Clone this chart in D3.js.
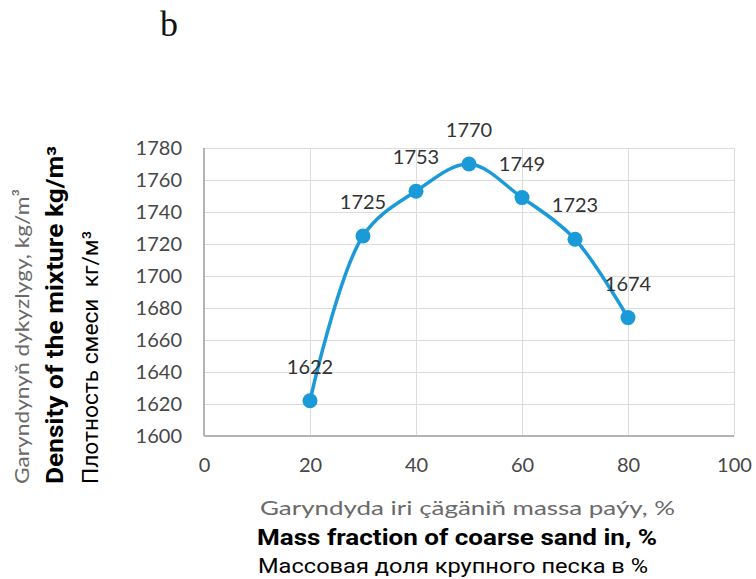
<!DOCTYPE html>
<html>
<head>
<meta charset="utf-8">
<script src="https://cdn.jsdelivr.net/npm/d3@7.9.0/dist/d3.min.js"></script>
<style>
  body { margin: 0; background: #fff; }
  svg { display: block; }
</style>
</head>
<body>
<svg id="chart" width="756" height="579"></svg>
<script>
// data
const sandShare = [20, 30, 40, 50, 60, 70, 80];
const density = [1622, 1725, 1753, 1770, 1749, 1723, 1674];
const xTickValues = [0, 20, 40, 60, 80, 100];
const yTickValues = [1600, 1620, 1640, 1660, 1680, 1700, 1720, 1740, 1760, 1780];

const svg = d3.select('#chart');

const plotL = 204, plotR = 734, plotT = 148, plotB = 436;

let x = d3.scaleLinear().domain([0, 100]).range([plotL, plotR]);
let y = d3.scaleLinear().domain([1600, 1780]).range([plotB, plotT]);

// panel letter
svg.append('text')
   .attr('x', 160).attr('y', 36)
   .attr('font-family', 'Liberation Serif')
   .attr('font-size', 36)
   .attr('fill', '#111')
   .text('b');

// horizontal gridlines + y tick labels
let gy = svg.append('g')
    .attr('transform', `translate(${plotL},0)`)
    .call(d3.axisLeft(y).tickValues(yTickValues).tickFormat(d3.format('d'))
            .tickSize(-(plotR - plotL)).tickPadding(22));
gy.select('.domain').remove();
gy.selectAll('line').attr('stroke', '#dcdcdc');
gy.selectAll('text')
  .attr('font-family', 'Lato')
  .attr('font-size', 20)
  .attr('fill', '#474747');

// vertical gridlines + x tick labels
let gx = svg.append('g')
    .attr('transform', `translate(0,${plotB})`)
    .call(d3.axisBottom(x).tickValues(xTickValues).tickFormat(d3.format('d'))
            .tickSize(-(plotB - plotT)).tickPadding(22));
gx.select('.domain').remove();
gx.selectAll('line').attr('stroke', '#dcdcdc');
gx.selectAll('text')
  .attr('font-family', 'Lato')
  .attr('font-size', 20)
  .attr('fill', '#474747');

// axis lines
svg.append('line')
   .attr('x1', plotL).attr('x2', plotL).attr('y1', plotT).attr('y2', plotB)
   .attr('stroke', '#b4b4b4').attr('stroke-width', 2);
svg.append('line')
   .attr('x1', plotL).attr('x2', plotR).attr('y1', plotB).attr('y2', plotB)
   .attr('stroke', '#b4b4b4').attr('stroke-width', 2);

// series
let points = sandShare.map((s, i) => ({ s: s, d: density[i] }));

let lineGen = d3.line()
    .x(p => x(p.s))
    .y(p => y(p.d))
    .curve(d3.curveCatmullRom.alpha(0.5));

svg.append('path')
   .attr('d', lineGen(points))
   .attr('fill', 'none')
   .attr('stroke', '#1b9ad8')
   .attr('stroke-width', 3.5);

svg.selectAll('circle.pt')
   .data(points)
   .join('circle')
   .attr('class', 'pt')
   .attr('cx', p => x(p.s))
   .attr('cy', p => y(p.d))
   .attr('r', 7.5)
   .attr('fill', '#1b9ad8');

svg.selectAll('text.lbl')
   .data(points)
   .join('text')
   .attr('class', 'lbl')
   .attr('x', p => x(p.s))
   .attr('y', p => y(p.d) - 34)
   .attr('dy', '0.35em')
   .attr('text-anchor', 'middle')
   .attr('font-family', 'Lato')
   .attr('font-size', 20)
   .attr('fill', '#333')
   .text(p => p.d);

// y axis titles (three languages)
const yTitles = [
  { t: 'Garyndynyň dykyzlygy, kg/m³', bx: 29, y0: 484, len: 295, size: 20, weight: 'normal', fam: 'Lato', fill: '#6a6a6a' },
  { t: 'Density of the mixture kg/m³', bx: 63, y0: 484, len: 338, size: 23, weight: 'bold', fam: 'Roboto', fill: '#000' },
  { t: 'Плотность смеси  кг/м³', bx: 98, y0: 484, len: 253, size: 22, weight: 'normal', fam: 'Roboto', fill: '#000' }
];
yTitles.forEach(d => {
  svg.append('text')
     .attr('transform', `translate(${d.bx},${d.y0}) rotate(-90)`)
     .attr('font-family', d.fam)
     .attr('font-size', d.size)
     .attr('font-weight', d.weight)
     .attr('fill', d.fill)
     .attr('textLength', d.len)
     .attr('lengthAdjust', 'spacingAndGlyphs')
     .style('white-space', 'pre')
     .text(d.t);
});

// x axis titles
const xTitles = [
  { t: 'Garyndyda iri çägäniň massa paýy, %', x0: 260, by: 515, len: 415, size: 20, weight: 'normal', fam: 'Lato', fill: '#6a6a6a' },
  { t: 'Mass fraction of coarse sand in, %', x0: 257, by: 545, len: 400, size: 22, weight: 'bold', fam: 'Roboto', fill: '#000' },
  { t: 'Массовая доля крупного песка в %', x0: 258, by: 573, len: 390, size: 21, weight: 'normal', fam: 'Roboto', fill: '#000' }
];
xTitles.forEach(d => {
  svg.append('text')
     .attr('x', d.x0).attr('y', d.by)
     .attr('font-family', d.fam)
     .attr('font-size', d.size)
     .attr('font-weight', d.weight)
     .attr('fill', d.fill)
     .attr('textLength', d.len)
     .attr('lengthAdjust', 'spacingAndGlyphs')
     .text(d.t);
});
</script>
</body>
</html>
